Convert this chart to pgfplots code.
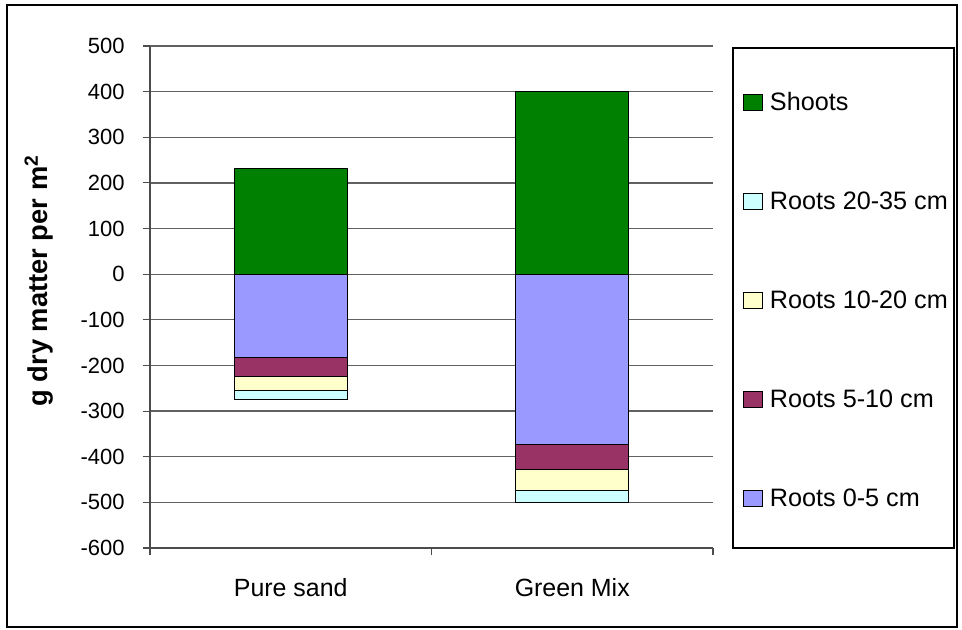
\documentclass[border=0pt]{standalone}
\usepackage{fontspec}
\setmainfont{Liberation Sans}
\usepackage{pgfplots}
\usepackage{pgfplotstable}
\pgfplotsset{compat=1.18}

\definecolor{shoots}{HTML}{008000}
\definecolor{rootsA}{HTML}{9999FF}
\definecolor{rootsB}{HTML}{993366}
\definecolor{rootsC}{HTML}{FFFFCC}
\definecolor{rootsD}{HTML}{CCFFFF}

% dry matter (g per m^2): shoots above ground, roots per soil layer below
\pgfplotstableread{
x shoots r05 r510 r1020 r2035
0 232 -183 -42 -30 -20
1 400 -374 -55 -44 -27
}\biomass

\pgfplotsset{
  base/.style={
    scale only axis, width=422.25pt, height=376.5pt,
    at={(112.5pt,61.5pt)}, anchor=south west,
    xmin=-0.5, xmax=1.5, ymin=-600, ymax=500,
    bar width=84.75pt,
  },
  sqlegend/.style={
    legend image code/.code={\draw[##1,draw=black,line width=0.75pt] (0pt,-6pt) rectangle (14pt,6pt);}
  },
  seg/.style={draw=black, line width=0.8pt, fill=#1, sqlegend},
}

\begin{document}
\begin{tikzpicture}
\useasboundingbox (0,0) rectangle (721.5pt,472.5pt);
\draw[black, line width=0.8pt] (5.25pt,2.25pt) rectangle (717.75pt,468.75pt);
\draw[black, line width=0.8pt] (549.75pt,61.5pt) rectangle (715.5pt,436.5pt);

% roots, stacked downward from zero
\begin{axis}[base,
  ybar stacked,
  axis x line=bottom, axis y line=left,
  axis line style={-, draw=black!70, line width=0.8pt},
  ymajorgrids, grid style={black!62, line width=0.9pt},
  ytick={-600,-500,-400,-300,-200,-100,0,100,200,300,400,500},
  yticklabels={-600,-500,-400,-300,-200,-100,0,100,200,300,400,500},
  xtick={-0.5,0.5,1.5}, x tick label as interval,
  xticklabels={Pure sand,Green Mix},
  tick align=outside, major tick length=5.5pt,
  tick style={black!70, line width=0.8pt},
  yticklabel style={font=\fontsize{16.5}{19}\selectfont, xshift=-10pt},
  xticklabel style={font=\fontsize{18.7}{22}\selectfont, yshift=-14pt},
  ylabel={g dry matter per m\textsuperscript{2}},
  ylabel style={font=\bfseries\fontsize{20.5}{24}\selectfont,
    at={(axis description cs:-0.197,0.532)}, anchor=center},
]
\addplot[seg=rootsA] table[x=x,y=r05]{\biomass};
\addplot[seg=rootsB] table[x=x,y=r510]{\biomass};
\addplot[seg=rootsC] table[x=x,y=r1020]{\biomass};
\addplot[seg=rootsD] table[x=x,y=r2035]{\biomass};
\end{axis}

% shoots, upward from zero, plus the legend
\begin{axis}[base,
  hide axis, ybar, bar shift=0pt,
  legend style={draw=none, fill=none, inner sep=0pt,
    at={(axis description cs:1.0533,0.9085)}, anchor=north west,
    row sep=59.6pt, column sep=5.25pt,
    font=\fontsize{18.9}{22}\selectfont,
    nodes={inner sep=0pt}},
  legend cell align=left,
]
\addplot[seg=shoots] table[x=x,y=shoots]{\biomass};
\addlegendentry{Shoots}
\addlegendimage{seg=rootsD}
\addlegendentry{Roots 20-35 cm}
\addlegendimage{seg=rootsC}
\addlegendentry{Roots 10-20 cm}
\addlegendimage{seg=rootsB}
\addlegendentry{Roots 5-10 cm}
\addlegendimage{seg=rootsA}
\addlegendentry{Roots 0-5 cm}
\end{axis}
\end{tikzpicture}
\end{document}
